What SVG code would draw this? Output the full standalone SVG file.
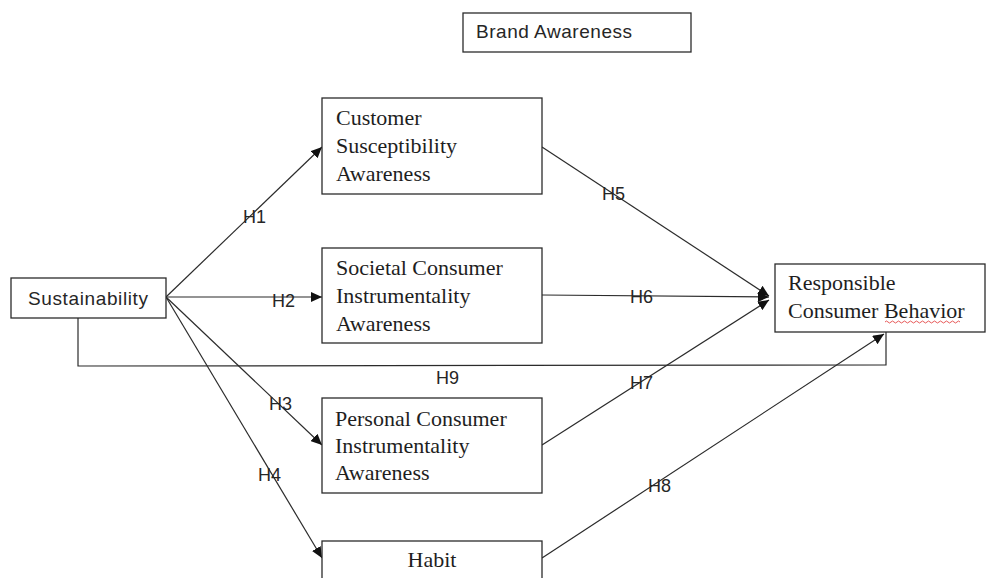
<svg xmlns="http://www.w3.org/2000/svg" width="986" height="578" viewBox="0 0 986 578">
  <style>
    .box { fill: #ffffff; stroke: #2b2b2b; stroke-width: 1.3; }
    .serif { font-family: "Liberation Serif", "Times New Roman", serif; font-size: 22px; fill: #1e1e1e; }
    .sans { font-family: "Liberation Sans", Arial, sans-serif; font-size: 19px; fill: #262626; }
    .link { fill: none; stroke: #2b2b2b; stroke-width: 1.2; }
    .lbl { font-family: "Liberation Sans", Arial, sans-serif; font-size: 18px; fill: #262626; }
  </style>
  <defs>
    <marker id="arrow" markerUnits="userSpaceOnUse" markerWidth="12" markerHeight="10" refX="11" refY="5" orient="auto">
      <path d="M0,0 L11,5 L0,10 z" fill="#111111"/>
    </marker>
  </defs>

  <rect width="986" height="578" fill="#ffffff"/>

  <!-- connectors -->
  <g id="connectors">
    <line class="link" x1="166" y1="297" x2="322" y2="147" marker-end="url(#arrow)"/>
    <line class="link" x1="166" y1="297" x2="322" y2="297" marker-end="url(#arrow)"/>
    <line class="link" x1="166" y1="297" x2="322" y2="445" marker-end="url(#arrow)"/>
    <line class="link" x1="166" y1="297" x2="322" y2="558" marker-end="url(#arrow)"/>
    <line class="link" x1="542" y1="147" x2="769" y2="296" marker-end="url(#arrow)"/>
    <line class="link" x1="542" y1="295" x2="769" y2="297" marker-end="url(#arrow)"/>
    <line class="link" x1="542" y1="445" x2="769" y2="300" marker-end="url(#arrow)"/>
    <line class="link" x1="542" y1="558" x2="884" y2="334" marker-end="url(#arrow)"/>
    <polyline class="link" points="78,318 78,366 886,365 886,332"/>

    <text class="lbl" x="243" y="223">H1</text>
    <text class="lbl" x="272" y="307">H2</text>
    <text class="lbl" x="269" y="410">H3</text>
    <text class="lbl" x="258" y="481">H4</text>
    <text class="lbl" x="602" y="200">H5</text>
    <text class="lbl" x="630" y="303">H6</text>
    <text class="lbl" x="630" y="389">H7</text>
    <text class="lbl" x="648" y="492">H8</text>
    <text class="lbl" x="436" y="384">H9</text>
  </g>

  <!-- nodes -->
  <g id="brand-awareness">
    <rect class="box" x="463" y="13" width="228" height="39"/>
    <text class="sans" x="476" y="38" textLength="156" lengthAdjust="spacing">Brand Awareness</text>
  </g>

  <g id="sustainability">
    <rect class="box" x="11" y="278" width="155" height="40"/>
    <text class="sans" x="28" y="305" textLength="120" lengthAdjust="spacing">Sustainability</text>
  </g>

  <g id="customer-susceptibility">
    <rect class="box" x="322" y="98" width="220" height="96"/>
    <text class="serif" x="336" y="125">Customer</text>
    <text class="serif" x="336" y="153">Susceptibility</text>
    <text class="serif" x="336" y="181">Awareness</text>
  </g>

  <g id="societal-instrumentality">
    <rect class="box" x="322" y="248" width="220" height="95"/>
    <text class="serif" x="336" y="275">Societal Consumer</text>
    <text class="serif" x="336" y="303">Instrumentality</text>
    <text class="serif" x="336" y="331">Awareness</text>
  </g>

  <g id="personal-instrumentality">
    <rect class="box" x="322" y="398" width="220" height="95"/>
    <text class="serif" x="335" y="426">Personal Consumer</text>
    <text class="serif" x="335" y="453">Instrumentality</text>
    <text class="serif" x="335" y="480">Awareness</text>
  </g>

  <g id="habit">
    <rect class="box" x="322" y="541" width="220" height="60"/>
    <text class="serif" x="432" y="567" text-anchor="middle">Habit</text>
  </g>

  <g id="responsible-behavior">
    <rect class="box" x="775" y="264" width="210" height="68"/>
    <text class="serif" x="788" y="290">Responsible</text>
    <text class="serif" x="788" y="318">Consumer Behavior</text>
    <!-- spell-check squiggle under "Behavior" -->
    <path d="M885,322 q1.5,-2 3,0 t3,0 t3,0 t3,0 t3,0 t3,0 t3,0 t3,0 t3,0 t3,0 t3,0 t3,0 t3,0 t3,0 t3,0 t3,0 t3,0 t3,0 t3,0 t3,0 t3,0 t3,0 t3,0 t3,0 t3,0" fill="none" stroke="#e03030" stroke-width="0.8"/>
  </g>
</svg>
